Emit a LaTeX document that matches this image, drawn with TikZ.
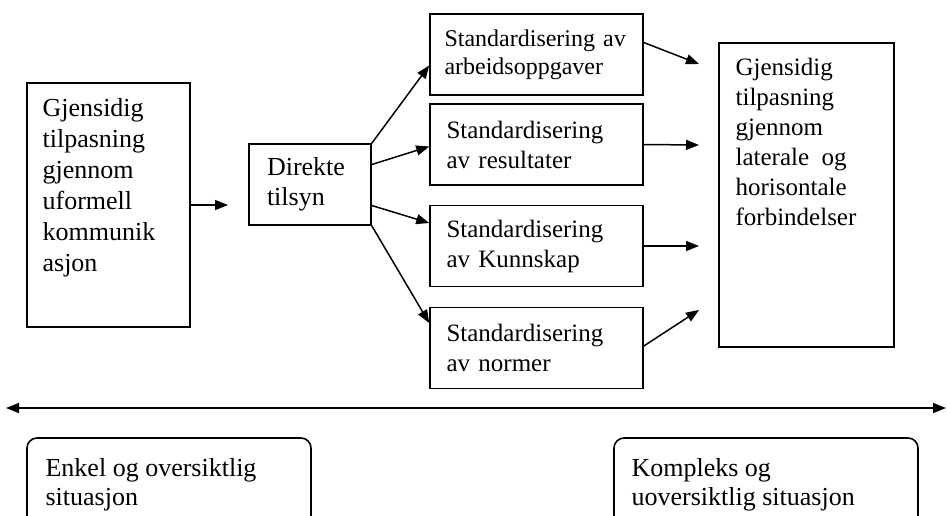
\documentclass[tikz,border=0pt]{standalone}
\usepackage{fontspec}
\setmainfont{Liberation Serif}
\usetikzlibrary{arrows.meta}

\begin{document}
\begin{tikzpicture}[x=0.5pt,y=-0.5pt,
    box/.style={draw,line width=0.8pt,inner sep=0pt},
    stdbox/.style={box,minimum width=106.5pt,minimum height=40.5pt,text width=90pt,align=left,font=\fontsize{12.5}{15}\selectfont},
    roundbox/.style={box,rounded corners=5pt,minimum height=65pt},
    txt/.style={inner sep=0pt,align=left},
    arr/.style={-{Triangle[length=6.5pt,width=5pt]},line width=0.75pt},
    dbl/.style={{Triangle[length=6.5pt,width=5pt]}-{Triangle[length=6.5pt,width=5pt]},line width=0.75pt}]
    \clip (0,0) rectangle (947,515);
    % left and middle
    \node[box,minimum width=81.5pt,minimum height=122pt] (simple) at (108.5,205) {};
    \node[txt,anchor=north west,font=\fontsize{13}{15.5}\selectfont] (simpletxt) at ([shift={(16,16)}]simple.north west) {Gjensidig\\tilpasning\\gjennom\\uformell\\kommunik\\asjon};
    \node[box,minimum width=61pt,minimum height=40.5pt,text width=43pt,align=left,font=\fontsize{13}{15}\selectfont] (tilsyn) at (310,184.5) {Direkte\\tilsyn};
    \coordinate (mid) at (228,205);
    % standardisering
    \node[stdbox,text width=92pt,font=\fontsize{12}{14}\selectfont] (std1) at (536.5,54.5) {Standardisering av\\arbeidsoppgaver};
    \node[stdbox] (std2) at (536.5,144.5) {Standardisering\\av resultater};
    \node[stdbox] (std3) at (536.5,246) {Standardisering\\av Kunnskap};
    \node[stdbox] (std4) at (536.5,348) {Standardisering\\av normer};
    % right
    \node[box,minimum width=87.5pt,minimum height=152pt] (complex) at (806.5,195) {};
    \node[txt,anchor=north west,font=\fontsize{12.5}{15}\selectfont] (complextxt) at ([shift={(17,16)}]complex.north west) {Gjensidig\\tilpasning\\gjennom\\laterale\ \ og\\horisontale\\forbindelser};
    \coordinate (c1) at (699,64);
    \coordinate (c2) at (699,145);
    \coordinate (c3) at (699,246);
    \coordinate (c4) at (699,310);
    % scale
    \coordinate (lft) at (6,408);
    \coordinate (rgt) at (946,408);
    \node[roundbox,minimum width=142pt] (enkel) at (169,503) {};
    \node[txt,anchor=north west,font=\fontsize{13}{14.5}\selectfont] (enkeltxt) at ([shift={(19,21)}]enkel.north west) {Enkel og oversiktlig\\situasjon};
    \node[roundbox,minimum width=152pt] (kompleks) at (766,503) {};
    \node[txt,anchor=north west,font=\fontsize{13}{14.5}\selectfont] (komplekstxt) at ([shift={(18,21)}]kompleks.north west) {Kompleks og\\uoversiktlig situasjon};

    \draw[arr] (simple.east) -- (mid);
    \draw[arr] (tilsyn.north east) -- ([shift={(0,11)}]std1.west);
    \draw[arr] ([shift={(0,-20)}]tilsyn.east) -- ([shift={(0,2)}]std2.west);
    \draw[arr] ([shift={(0,21)}]tilsyn.east) -- ([shift={(0,-23)}]std3.west);
    \draw[arr] (tilsyn.south east) -- ([shift={(0,-25)}]std4.west);
    \draw[arr] ([shift={(0,-12)}]std1.east) -- (c1);
    \draw[arr] (std2.east) -- (c2);
    \draw[arr] (std3.east) -- (c3);
    \draw[arr] ([shift={(0,-2)}]std4.east) -- (c4);
    \draw[dbl] (lft) -- (rgt);
\end{tikzpicture}
\end{document}
